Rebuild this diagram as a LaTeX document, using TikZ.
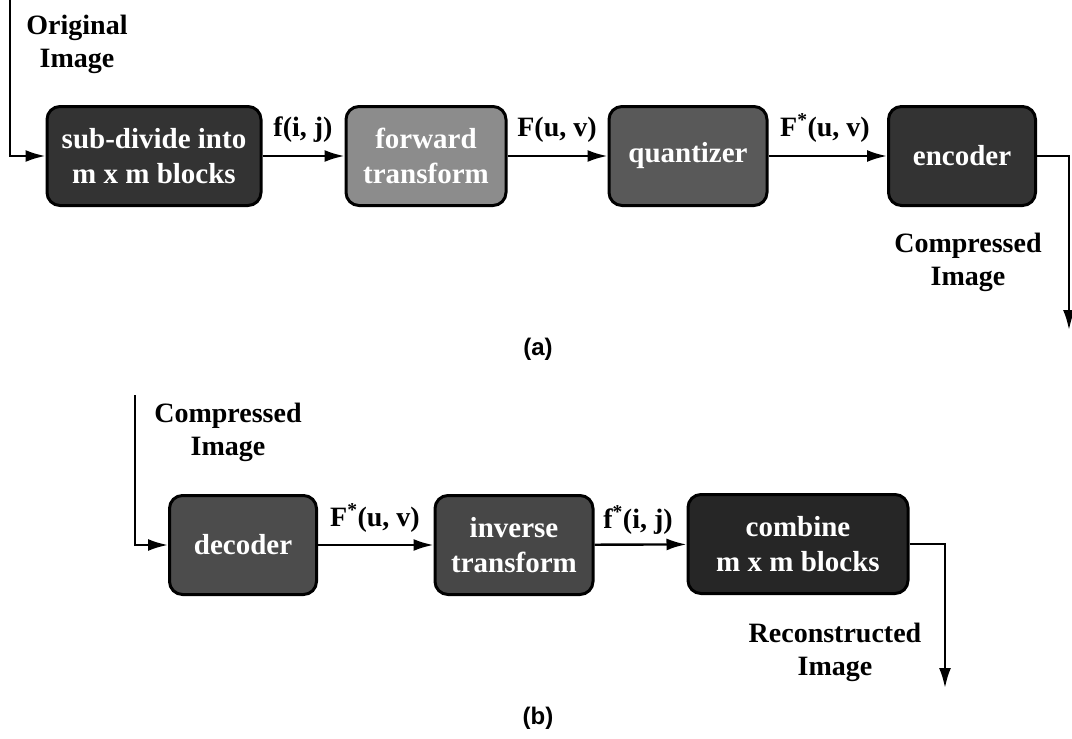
\documentclass[tikz,border=0pt]{standalone}
\usepackage{fontspec}
\setmainfont{Liberation Serif}
\setsansfont{Liberation Sans}
\usetikzlibrary{arrows.meta}
\tikzset{
  stage/.style = {draw, line width = 3pt, rounded corners = 13pt, fill = black!75,
    text = white, font = \bfseries\fontsize{29}{35}\selectfont, align = center,
    minimum height = 99pt, inner sep = 0pt},
  flow/.style = {line width = 2.4pt, -{Latex[length = 20pt, width = 12pt]}},
  lbl/.style = {font = \bfseries\fontsize{28}{33}\selectfont, align = center},
  sublbl/.style = {font = \sffamily\bfseries\fontsize{24}{24}\selectfont}
}
\newcommand{\starred}[2]{#1\textsuperscript{*}#2}
\begin{document}
\begin{tikzpicture}[x = 1pt, y = -1pt]
  \useasboundingbox (0,0) rectangle (1072,739);
  % (a) coding
  \node [stage, minimum width = 214pt, fill = black!80] (sub) at (154,156) {sub-divide into\\m x m blocks};
  \node [stage, minimum width = 160pt, fill = black!45] (fwd) at (426,156) {forward\\transform};
  \node [stage, minimum width = 158pt, fill = black!65] (quant) at (688,156) {quantizer};
  \node [stage, minimum width = 147pt, fill = black!80] (enc) at (962,156) {encoder};
  \coordinate (in) at (10,0);
  \coordinate (out) at (1069,330);
  \draw [flow] (in) |- (sub);
  \draw [flow] (sub) -- (fwd);
  \draw [flow] (fwd) -- (quant);
  \draw [flow] (quant) -- (enc);
  \draw [flow] (enc) -| (out);
  \node [lbl] (orig) at (77,44) {Original\\Image};
  \node [lbl] (fij) at (303,130) {f(i, j)};
  \node [lbl] (fuv) at (557,130) {F(u, v)};
  \node [lbl] (fsuv) at (825,128) {\starred{F}{(u, v)}};
  \node [lbl] (comp) at (968,262) {Compressed\\Image};
  \node [sublbl] (capa) at (538,349) {(a)};
  % (b) decoding
  \node [stage, minimum width = 147pt, fill = black!70] (dec) at (243,545) {decoder};
  \node [stage, minimum width = 158pt, fill = black!72] (inv) at (514,545) {inverse\\transform};
  \node [stage, minimum width = 220pt, fill = black!85] (comb) at (798,544) {combine\\m x m blocks};
  \coordinate (in2) at (135,395);
  \coordinate (out2) at (945,688);
  \draw [flow] (in2) |- (dec);
  \draw [flow] (dec) -- (inv);
  \draw [flow] (inv) -- (comb);
  \draw [flow] (comb) -| (out2);
  \node [lbl] (comp2) at (228,432) {Compressed\\Image};
  \node [lbl] (fsuv2) at (375,518) {\starred{F}{(u, v)}};
  \node [lbl] (fsij) at (638,520) {\starred{f}{(i, j)}};
  \node [lbl] (recon) at (835,652) {Reconstructed\\Image};
  \node [sublbl] (capb) at (538,718) {(b)};
\end{tikzpicture}
\end{document}
